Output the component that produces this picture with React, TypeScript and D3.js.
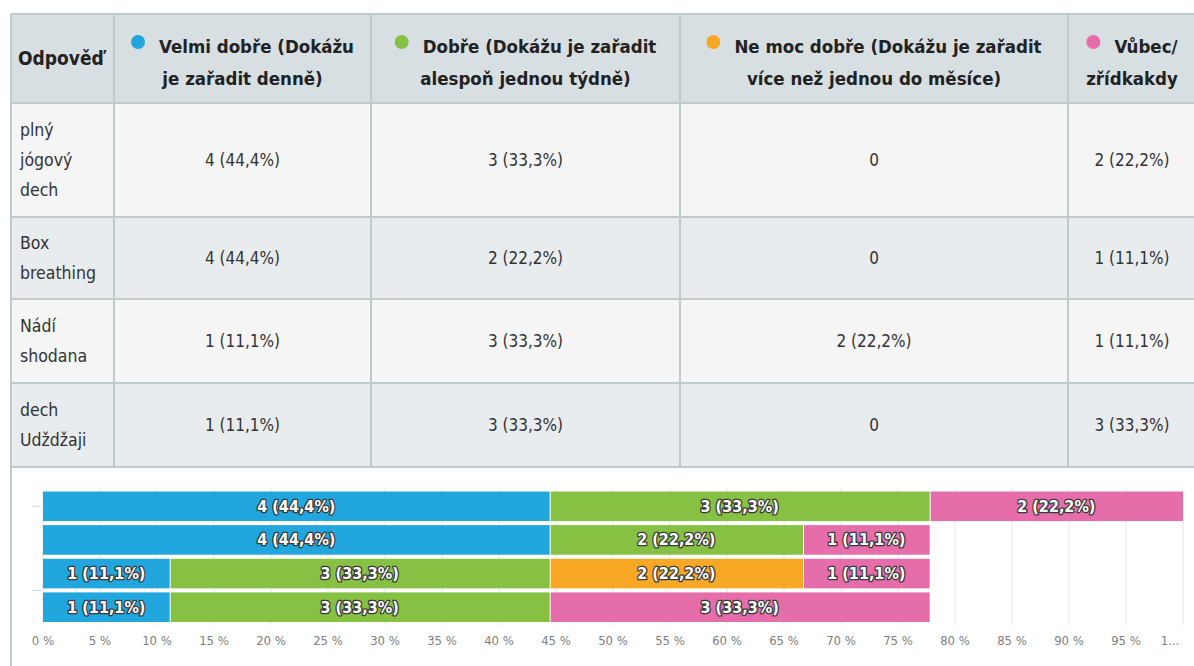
import { useEffect, useRef } from 'react'
import * as d3 from 'd3'

// answer rows (table first column, wrapped as shown)
const answers = ['plný jógový dech', 'Box breathing', 'Nádí shodana', 'dech Udždžaji']
const answerLines = [['plný', 'jógový', 'dech'], ['Box', 'breathing'], ['Nádí', 'shodana'], ['dech', 'Udždžaji']]

// response categories (header columns)
const categories = [
  'Velmi dobře (Dokážu je zařadit denně)',
  'Dobře (Dokážu je zařadit alespoň jednou týdně)',
  'Ne moc dobře (Dokážu je zařadit více než jednou do měsíce)',
  'Vůbec/ zřídkakdy',
]
const categoryLines = [
  ['Velmi dobře (Dokážu', 'je zařadit denně)'],
  ['Dobře (Dokážu je zařadit', 'alespoň jednou týdně)'],
  ['Ne moc dobře (Dokážu je zařadit', 'více než jednou do měsíce)'],
  ['Vůbec/', 'zřídkakdy'],
]

// counts per answer, one array per category
const velmiDobre = [4, 4, 1, 1]
const dobre = [3, 2, 3, 3]
const neMocDobre = [0, 0, 2, 0]
const vubec = [2, 1, 1, 3]
const respondents = 9

const percentTicks = [0, 5, 10, 15, 20, 25, 30, 35, 40, 45, 50, 55, 60, 65, 70, 75, 80, 85, 90, 95, 100]

const colors = ['#21a6de', '#86c143', '#f9a825', '#e46daa']
const FONT = "'DejaVu Sans Condensed', 'Liberation Sans Narrow', Roboto, sans-serif"

const fmt = (n: number) => {
  if (n === 0) return '0'
  const p = ((n / respondents) * 100).toFixed(1).replace('.', ',')
  return `${n} (${p}%)`
}

export default function App() {
  const svgRef = useRef<SVGSVGElement>(null)

  useEffect(() => {
    document.body.style.margin = '0'
    if (!svgRef.current) return
    const svg = d3.select(svgRef.current)
    svg.selectAll('*').remove()

    const series = [velmiDobre, dobre, neMocDobre, vubec]
    const colEdges = [11, 114, 371, 680, 1068, 1196]
    const rowEdges = [14, 103, 217, 299, 383, 467]
    const border = '#bfcacd'

    // ---- table ----
    const t = svg.append('g')
    t.append('rect')
      .attr('x', colEdges[0]).attr('y', rowEdges[0])
      .attr('width', colEdges[5] - colEdges[0]).attr('height', rowEdges[1] - rowEdges[0])
      .attr('fill', '#d7dfe2')
    answers.forEach((_, i) => {
      t.append('rect')
        .attr('x', colEdges[0]).attr('y', rowEdges[i + 1])
        .attr('width', colEdges[5] - colEdges[0]).attr('height', rowEdges[i + 2] - rowEdges[i + 1])
        .attr('fill', i % 2 === 0 ? '#f5f5f5' : '#e9ecee')
    })
    rowEdges.forEach(y => {
      t.append('line')
        .attr('x1', colEdges[0]).attr('x2', colEdges[5])
        .attr('y1', y).attr('y2', y)
        .attr('stroke', border).attr('stroke-width', 2)
    })
    colEdges.slice(1, 5).forEach(x => {
      t.append('line')
        .attr('x1', x).attr('x2', x)
        .attr('y1', rowEdges[0]).attr('y2', rowEdges[5])
        .attr('stroke', border).attr('stroke-width', 2)
    })
    // outer left border runs down through the chart
    t.append('line')
      .attr('x1', colEdges[0]).attr('x2', colEdges[0])
      .attr('y1', rowEdges[0]).attr('y2', 666)
      .attr('stroke', border).attr('stroke-width', 2)

    t.append('text')
      .attr('x', 18).attr('y', 65)
      .attr('font-family', FONT).attr('font-size', 19).attr('font-weight', 'bold')
      .attr('fill', '#222')
      .text('Odpověď')

    categoryLines.forEach((lines, c) => {
      const cx = (colEdges[c + 1] + colEdges[c + 2]) / 2
      const l1 = t.append('text')
        .attr('y', 53)
        .attr('font-family', FONT).attr('font-size', 18.5).attr('font-weight', 'bold')
        .attr('fill', '#222')
        .text(lines[0])
      const w = (l1.node() as SVGTextElement).getComputedTextLength()
      const total = 14 + 14 + w
      const start = cx - total / 2
      l1.attr('x', start + 28)
      t.append('circle')
        .attr('cx', start + 7).attr('cy', 42).attr('r', 7)
        .attr('fill', colors[c])
      t.append('text')
        .attr('x', cx).attr('y', 85)
        .attr('text-anchor', 'middle')
        .attr('font-family', FONT).attr('font-size', 18.5).attr('font-weight', 'bold')
        .attr('fill', '#222')
        .text(lines[1])
    })

    answerLines.forEach((lines, r) => {
      const top = rowEdges[r + 1]
      const bottom = rowEdges[r + 2]
      const mid = (top + bottom) / 2
      const lh = 30
      const y0 = mid - ((lines.length - 1) * lh) / 2
      lines.forEach((ln, k) => {
        t.append('text')
          .attr('x', 20).attr('y', y0 + k * lh + 6)
          .attr('font-family', FONT).attr('font-size', 17.5)
          .attr('fill', '#333')
          .text(ln)
      })
      series.forEach((s, c) => {
        t.append('text')
          .attr('x', (colEdges[c + 1] + colEdges[c + 2]) / 2)
          .attr('y', mid + 6)
          .attr('text-anchor', 'middle')
          .attr('font-family', FONT).attr('font-size', 17)
          .attr('fill', '#333')
          .text(fmt(s[r]))
      })
    })

    // ---- stacked bar chart ----
    const x = d3.scaleLinear().domain([0, 100]).range([43, 1183])
    const y = d3.scaleBand<string>().domain(answers).range([491.5, 622]).paddingInner(0.12)
    const bw = y.bandwidth()

    const g = svg.append('g')
    g.selectAll('.grid')
      .data(percentTicks)
      .enter()
      .append('line')
      .attr('x1', d => x(d)).attr('x2', d => x(d))
      .attr('y1', 489).attr('y2', 625)
      .attr('stroke', '#e4e4e4')

    const stackData = answers.map((a, i) => ({ answer: a, s0: velmiDobre[i], s1: dobre[i], s2: neMocDobre[i], s3: vubec[i] }))
    const stack = d3.stack<any>().keys(['s0', 's1', 's2', 's3'])(stackData)

    stack.forEach((layer, c) => {
      layer.forEach((seg, i) => {
        const v = seg[1] - seg[0]
        if (v === 0) return
        const x0 = x((seg[0] / respondents) * 100)
        const x1 = x((seg[1] / respondents) * 100)
        const yy = y(answers[i])!
        g.append('rect')
          .attr('x', x0 + (seg[0] > 0 ? 1 : 0)).attr('y', yy)
          .attr('width', x1 - x0 - (seg[0] > 0 ? 1 : 0)).attr('height', bw)
          .attr('fill', colors[c])
        g.append('text')
          .attr('x', (x0 + x1) / 2).attr('y', yy + bw / 2 + 5.5)
          .attr('text-anchor', 'middle')
          .attr('font-family', FONT).attr('font-size', 16).attr('font-weight', 'bold')
          .attr('fill', '#fff').attr('stroke', '#3a3a3a').attr('stroke-width', 2.6)
          .attr('paint-order', 'stroke').attr('stroke-linejoin', 'round')
          .text(fmt(v))
      })
    })

    // category axis ticks
    const step = y.step()
    ;[y(answers[0])! + bw / 2, y(answers[3])! - (step - bw) / 2].forEach(ty => {
      g.append('line')
        .attr('x1', 32).attr('x2', 41).attr('y1', ty).attr('y2', ty)
        .attr('stroke', '#ccd6eb')
    })

    // percent axis labels
    g.selectAll('.tick-label')
      .data(percentTicks)
      .enter()
      .append('text')
      .attr('x', d => (d === 100 ? x(d) - 13 : x(d)))
      .attr('y', 645)
      .attr('text-anchor', 'middle')
      .attr('font-family', FONT).attr('font-size', 13)
      .attr('fill', '#808080')
      .text(d => (d === 100 ? '1...' : `${d} %`))
  }, [])

  return (
    <svg ref={svgRef} width={1194} height={666} style={{ display: 'block', background: '#fff' }} />
  )
}
